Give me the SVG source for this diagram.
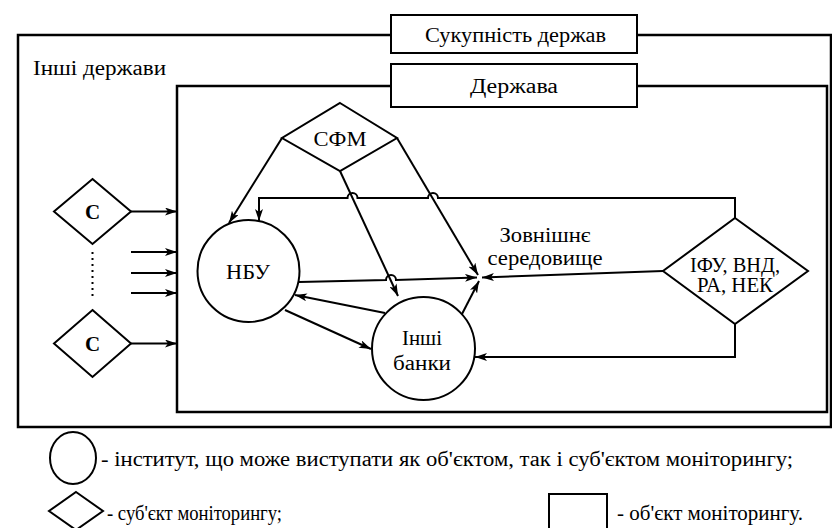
<svg xmlns="http://www.w3.org/2000/svg" width="832" height="528" viewBox="0 0 832 528">
<defs>
<marker id="ah" viewBox="0 0 12 8" refX="12" refY="4" markerWidth="12" markerHeight="8" markerUnits="userSpaceOnUse" orient="auto">
<path d="M0,0 L12,4 L0,8 L3,4 Z" fill="#000"/>
</marker>
</defs>
<style>
.s{fill:#fff;stroke:#000;stroke-width:2}
.box{fill:none;stroke:#000;stroke-width:2.5}
</style>
<rect width="832" height="528" fill="#fff"/>
<g id="outer">
<rect class="box" x="18" y="35" width="813" height="392"/>
<text x="33" y="75" style="font-family:'Liberation Serif',serif;font-size:20px" textLength="133" lengthAdjust="spacingAndGlyphs">Інші держави</text>
</g>
<g id="title-outer">
<rect class="s" x="391" y="15" width="246" height="38"/>
<text x="425" y="42" style="font-family:'Liberation Serif',serif;font-size:20px" textLength="181" lengthAdjust="spacingAndGlyphs">Сукупність держав</text>
</g>
<g id="inner">
<rect class="box" x="177" y="86" width="650" height="326"/>
</g>
<g id="title-inner">
<rect class="s" x="391" y="64" width="246" height="43"/>
<text x="470" y="93" style="font-family:'Liberation Serif',serif;font-size:20px" textLength="88" lengthAdjust="spacingAndGlyphs">Держава</text>
</g>
<g id="c1">
<polygon class="s" points="92.5,179 131,211.5 92.5,244 54,211.5"/>
<text x="92.5" y="219" style="font-family:'Liberation Serif',serif;font-size:21px;font-weight:bold" text-anchor="middle">С</text>
</g>
<g id="c2">
<polygon class="s" points="92.5,310 131,343.5 92.5,377 54,343.5"/>
<text x="92.5" y="351" style="font-family:'Liberation Serif',serif;font-size:21px;font-weight:bold" text-anchor="middle">С</text>
</g>
<g id="sfm">
<polygon class="s" points="340,103 397,138 340,171 282,138"/>
<text x="340" y="146" style="font-family:'Liberation Serif',serif;font-size:20px" text-anchor="middle" textLength="53" lengthAdjust="spacingAndGlyphs">СФМ</text>
</g>
<g id="nbu">
<circle class="s" cx="248.5" cy="271" r="51"/>
<text x="248" y="279" style="font-family:'Liberation Serif',serif;font-size:20px" text-anchor="middle" textLength="44" lengthAdjust="spacingAndGlyphs">НБУ</text>
</g>
<g id="banks">
<circle class="s" cx="423.5" cy="348.5" r="51.5"/>
<text x="422" y="345" style="font-family:'Liberation Serif',serif;font-size:20px" text-anchor="middle" textLength="40" lengthAdjust="spacingAndGlyphs">Інші</text>
<text x="422" y="370" style="font-family:'Liberation Serif',serif;font-size:20px" text-anchor="middle" textLength="58" lengthAdjust="spacingAndGlyphs">банки</text>
</g>
<g id="env">
<text x="545" y="242" style="font-family:'Liberation Serif',serif;font-size:20px" text-anchor="middle" textLength="91" lengthAdjust="spacingAndGlyphs">Зовнішнє</text>
<text x="545" y="265" style="font-family:'Liberation Serif',serif;font-size:20px" text-anchor="middle" textLength="115" lengthAdjust="spacingAndGlyphs">середовище</text>
</g>
<g id="ifu">
<polygon class="s" points="735,218 808,271 735,324 663,271"/>
<text x="735" y="272" style="font-family:'Liberation Serif',serif;font-size:20px" text-anchor="middle" textLength="90" lengthAdjust="spacingAndGlyphs">ІФУ, ВНД,</text>
<text x="735" y="292" style="font-family:'Liberation Serif',serif;font-size:20px" text-anchor="middle" textLength="76" lengthAdjust="spacingAndGlyphs">РА, НЕК</text>
</g>
<g id="connectors" fill="none" stroke="#000" stroke-width="2">
<path d="M131,211.5 H177" marker-end="url(#ah)"/>
<path d="M131,343.5 H177" marker-end="url(#ah)"/>
<path d="M131,252 H177" marker-end="url(#ah)"/>
<path d="M131,273 H177" marker-end="url(#ah)"/>
<path d="M131,293 H177" marker-end="url(#ah)"/>
<path d="M92.5,252 V300" stroke-dasharray="2,4"/>
<path d="M282,138 L229,223" marker-end="url(#ah)"/>
<path d="M735,218 V198 H438 a5,5 0 0 0 -10,0 H357.5 a5,5 0 0 0 -10,0 H259 V221" marker-end="url(#ah)"/>
<path d="M340,171 L398,296" marker-end="url(#ah)"/>
<path d="M397,138 L478,275" marker-end="url(#ah)"/>
<path d="M299,282 L386,280 a5,5 0 0 1 10,0 L477,277.5" marker-end="url(#ah)"/>
<path d="M462,314 L479,281" marker-end="url(#ah)"/>
<path d="M663,271 L482,277.5" marker-end="url(#ah)"/>
<path d="M735,324 V357 H475" marker-end="url(#ah)"/>
<path d="M385,313 L295,295" marker-end="url(#ah)"/>
<path d="M285,310 L371,349" marker-end="url(#ah)"/>
</g>
<g id="legend">
<ellipse class="s" cx="73" cy="458" rx="23" ry="26"/>
<text x="101" y="466" style="font-family:'Liberation Serif',serif;font-size:20px" textLength="692" lengthAdjust="spacingAndGlyphs">- інститут, що може виступати як об'єктом, так і суб'єктом моніторингу;</text>
<polygon class="s" points="76,492 103,511 76,530 49,511"/>
<text x="107" y="520" style="font-family:'Liberation Serif',serif;font-size:20px" textLength="175" lengthAdjust="spacingAndGlyphs">- суб'єкт моніторингу;</text>
<rect class="s" x="549" y="494" width="58" height="36"/>
<text x="617" y="520" style="font-family:'Liberation Serif',serif;font-size:20px" textLength="186" lengthAdjust="spacingAndGlyphs">- об'єкт моніторингу.</text>
</g>
</svg>
